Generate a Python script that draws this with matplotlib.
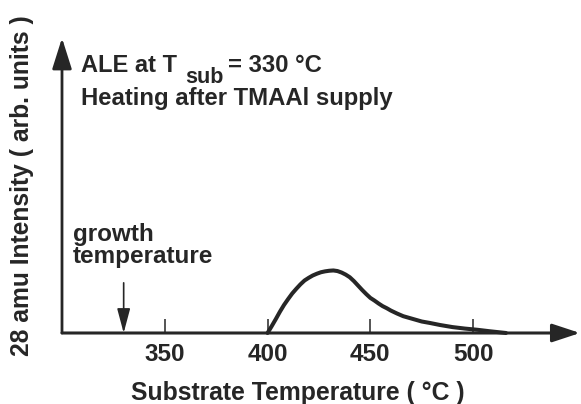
import matplotlib
matplotlib.use("Agg")
import matplotlib.pyplot as plt

# ---- data ----
temps = [400, 402, 404, 406, 408, 410, 412, 414, 416, 418, 420, 422, 424, 426, 428, 430,
         432, 434, 436, 438, 440, 442, 444, 446, 448, 450, 452, 454, 456, 458, 460, 463,
         466, 469, 472, 475, 479, 484, 490, 496, 502, 508, 512, 516]
intensity = [0, 0.23, 0.47, 0.72, 0.95, 1.15, 1.34, 1.50, 1.65, 1.78, 1.87, 1.95, 2.01, 2.06,
             2.09, 2.11, 2.12, 2.10, 2.05, 1.98, 1.89, 1.76, 1.61, 1.46, 1.32, 1.19, 1.10,
             1.00, 0.91, 0.84, 0.76, 0.66, 0.57, 0.51, 0.45, 0.39, 0.34, 0.27, 0.20, 0.15,
             0.11, 0.06, 0.03, 0]
tick_vals = [350, 400, 450, 500]
tick_labels = ["350", "400", "450", "500"]
growth_temp = 330

C = "#262626"
FONT = "Liberation Sans"
plt.rcParams["font.family"] = [FONT, "DejaVu Sans"]
plt.rcParams["font.weight"] = "bold"

W, H = 581, 404
fig = plt.figure(figsize=(W / 100, H / 100), dpi=100)
ax = fig.add_axes([62 / W, (H - 333) / H, 518 / W, 295 / H])
ax.set_xlim(300, 552)
ax.set_ylim(0, 10)
for s in ax.spines.values():
    s.set_visible(False)
ax.set_yticks([])
ax.set_xticks(tick_vals)
ax.set_xticklabels(tick_labels, fontsize=17.5, fontweight="bold", color=C)
ax.tick_params(axis="x", direction="in", length=10, width=1.1, color=C, pad=7.5)

# axes arrows
ax.annotate("", xy=(552, 0), xytext=(300, 0), annotation_clip=False,
            arrowprops=dict(arrowstyle="-|>,head_length=0.85,head_width=0.28",
                            mutation_scale=20, lw=2.2, color=C, shrinkA=0, shrinkB=0))
ax.annotate("", xy=(300, 10), xytext=(300, 0), annotation_clip=False,
            arrowprops=dict(arrowstyle="-|>,head_length=0.95,head_width=0.3",
                            mutation_scale=20, lw=2.0, color=C, shrinkA=0, shrinkB=0))

# curve
ax.plot(temps, intensity, color=C, lw=2.9, solid_capstyle="round",
        solid_joinstyle="round", clip_on=False)

# growth temperature arrow
ax.annotate("", xy=(growth_temp, 0), xytext=(growth_temp, 1.7), annotation_clip=False,
            arrowprops=dict(arrowstyle="-|>,head_length=0.75,head_width=0.2",
                            mutation_scale=20, lw=1.2, color=C, shrinkA=0, shrinkB=0))
fig.text(73 / W, (H - 263) / H, "growth\ntemperature", fontsize=17.5, fontweight="bold",
         color=C, ha="left", va="baseline", linespacing=0.95)

# title block
fig.canvas.draw()
r = fig.canvas.get_renderer()
t1 = fig.text(81 / W, (H - 72) / H, "ALE at T", fontsize=17.0, fontweight="bold",
              color=C, ha="left", va="baseline")
bb = t1.get_window_extent(r)
t2 = fig.text((bb.x1 + 8) / W, (H - 83) / H, "sub", fontsize=15.5, fontweight="bold",
              color=C, ha="left", va="baseline")
bb2 = t2.get_window_extent(r)
fig.text((bb2.x1 + 5) / W, (H - 72) / H, "= 330 °C", fontsize=17.2, fontweight="bold",
         color=C, ha="left", va="baseline")
fig.text(81 / W, (H - 105) / H, "Heating after TMAAl supply", fontsize=17.2,
         fontweight="bold", color=C, ha="left", va="baseline")

# axis labels
fig.text(298 / W, (H - 400) / H, "Substrate Temperature ( °C )", fontsize=17.8,
         fontweight="bold", color=C, ha="center", va="baseline")
fig.text(22 / W, (H - 186) / H, "28 amu Intensity ( arb. units )", fontsize=17.7,
         fontweight="bold", color=C, ha="center", va="center", rotation=90)

fig.savefig("out.png", dpi=100)
